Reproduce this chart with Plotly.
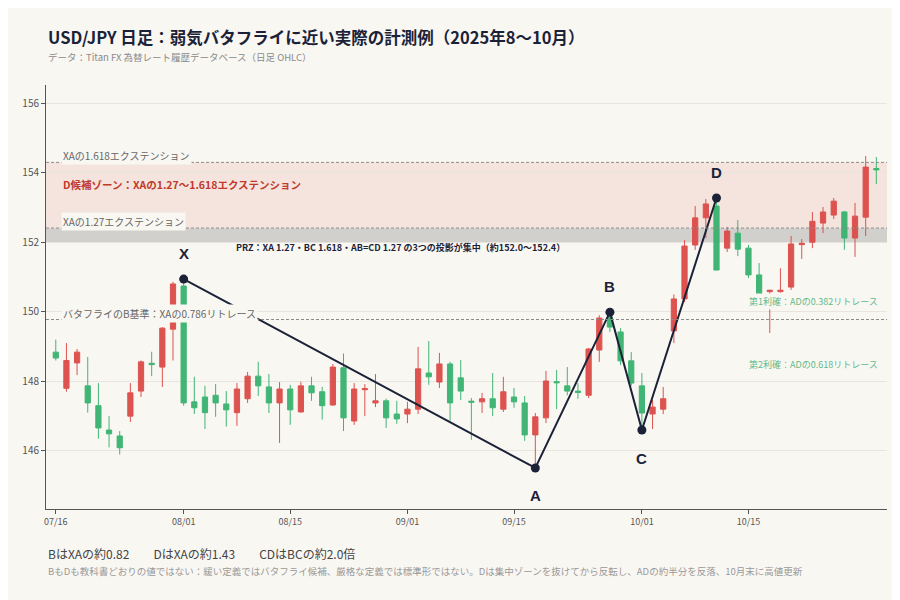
import pandas as pd
import plotly.graph_objs as go

# daily OHLC, USD/JPY, 2025-07-16 .. 2025-10-31 (weekdays)
dates = pd.bdate_range("2025-07-16", "2025-10-31")
opens = [148.84, 147.80, 148.53, 147.87, 147.30, 146.60, 146.43, 147.00, 147.72, 148.52,
         148.41, 149.50, 150.74, 147.41, 147.55, 147.60, 147.35, 147.10, 147.50, 148.15,
         147.84, 147.38, 147.78, 147.12, 147.87, 147.70, 147.32, 148.39, 146.86, 147.76,
         147.38, 147.44, 147.06, 147.06, 147.20, 148.24, 147.98, 148.50, 148.10, 147.43,
         147.41, 147.50, 147.20, 147.55, 147.38, 146.46, 146.95, 147.99, 147.87, 147.72,
         147.60, 148.90, 149.85, 149.42, 148.59, 147.87, 147.06, 147.20, 149.45, 150.37,
         151.92, 152.70, 153.04, 151.83, 152.26, 151.83, 151.06, 150.58, 150.58, 150.71,
         151.93, 152.00, 152.55, 152.78, 152.87, 152.12, 152.72, 154.12]
highs = [149.20, 149.10, 148.93, 148.70, 147.95, 147.00, 146.57, 147.95, 148.60, 148.85,
         149.56, 150.86, 150.94, 148.13, 147.87, 147.92, 147.72, 147.95, 148.27, 148.56,
         148.21, 147.98, 147.90, 147.99, 148.13, 147.84, 148.50, 148.80, 147.95, 147.92,
         148.21, 147.50, 147.44, 147.41, 148.99, 149.16, 148.82, 148.56, 148.61, 147.52,
         147.67, 148.24, 148.13, 147.81, 147.58, 147.09, 148.30, 148.33, 148.41, 147.95,
         148.96, 149.90, 149.99, 149.53, 148.84, 148.24, 147.47, 147.84, 150.50, 152.06,
         153.04, 153.24, 153.27, 152.44, 152.64, 151.92, 151.40, 150.63, 151.25, 152.18,
         152.09, 152.87, 153.01, 153.27, 152.90, 153.13, 154.48, 154.45]
lows = [148.60, 147.70, 148.18, 147.10, 146.35, 146.10, 145.90, 146.83, 147.55, 148.15,
        147.84, 148.60, 147.30, 147.06, 146.63, 146.98, 146.70, 146.72, 147.38, 147.58,
        147.09, 146.23, 146.75, 147.10, 147.44, 146.90, 147.30, 146.57, 146.75, 147.00,
        147.26, 146.66, 146.78, 146.80, 147.06, 147.90, 147.81, 146.86, 147.46, 146.32,
        147.09, 147.00, 147.12, 147.24, 146.29, 145.51, 146.80, 147.20, 147.60, 147.50,
        147.52, 148.56, 149.42, 148.47, 147.87, 146.60, 146.63, 147.06, 149.10, 150.28,
        151.78, 152.12, 151.20, 151.72, 151.60, 150.97, 150.22, 149.39, 150.55, 150.63,
        151.52, 151.83, 152.26, 152.67, 151.78, 151.58, 152.18, 153.67]
closes = [148.67, 148.60, 148.84, 147.38, 146.66, 146.49, 146.09, 147.67, 148.56, 148.48,
          149.53, 150.80, 147.38, 147.24, 147.10, 147.38, 147.18, 147.78, 148.15, 147.87,
          147.38, 147.78, 147.18, 147.87, 147.67, 147.30, 148.41, 146.95, 147.78, 147.79,
          147.44, 146.95, 146.92, 147.20, 148.36, 148.13, 148.50, 147.38, 147.72, 147.40,
          147.50, 147.24, 147.70, 147.41, 146.46, 146.98, 148.01, 147.96, 147.72, 147.68,
          148.93, 149.82, 149.56, 148.59, 147.95, 147.09, 147.26, 147.50, 150.37, 151.89,
          152.70, 153.10, 151.20, 152.32, 151.80, 151.06, 150.43, 150.62, 150.62, 151.95,
          151.97, 152.60, 152.87, 153.18, 152.12, 152.75, 154.16, 154.08]

pivot_names = ["X", "A", "B", "C", "D"]
pivot_dates = ["2025-08-01", "2025-09-17", "2025-09-26", "2025-10-01", "2025-10-10"]
pivot_prices = [150.94, 145.51, 149.99, 146.60, 153.27]

tick_dates = ["2025-07-16", "2025-08-01", "2025-08-15", "2025-09-01",
              "2025-09-15", "2025-10-01", "2025-10-15"]

BG = "#f9f7f2"
NAVY = "#1b2238"
RED = "#dc4b48"
GREEN = "#38b26f"
FONT = "Noto Sans CJK JP"

X, A = pivot_prices[0], pivot_prices[1]
xa = X - A
b_level = A + 0.786 * xa
ext127 = A + 1.27 * xa
ext1618 = A + 1.618 * xa
D = pivot_prices[4]
ad = D - A
tp1 = D - 0.382 * ad
tp2 = D - 0.618 * ad

fig = go.Figure()

fig.add_hrect(y0=ext127, y1=ext1618, fillcolor="rgba(226,90,70,0.12)", line_width=0, layer="below")
fig.add_hrect(y0=152.0, y1=152.4, fillcolor="rgba(150,150,150,0.4)", line_width=0, layer="below")
for lv in [ext1618, ext127, b_level]:
    fig.add_hline(y=lv, line=dict(color="#8a8a8a", width=1, dash="3px,2px"))

fig.add_trace(go.Candlestick(
    x=dates, open=opens, high=highs, low=lows, close=closes,
    increasing=dict(line=dict(color=RED, width=1), fillcolor=RED),
    decreasing=dict(line=dict(color=GREEN, width=1), fillcolor=GREEN),
    whiskerwidth=0, showlegend=False, opacity=0.95,
))

for lv in [tp1, tp2]:
    fig.add_trace(go.Scatter(
        x=["2025-10-15", "2025-10-31"], y=[lv, lv], mode="lines",
        line=dict(color="#7fcf9f", width=1, dash="dot"), showlegend=False, hoverinfo="skip",
    ))

fig.add_trace(go.Scatter(
    x=pivot_dates, y=pivot_prices, mode="lines+markers",
    line=dict(color=NAVY, width=2), marker=dict(color=NAVY, size=9),
    showlegend=False,
))

for name, d, p in zip(pivot_names, pivot_dates, pivot_prices):
    up = name in ("X", "B", "D")
    fig.add_annotation(x=d, y=p, text=f"<b>{name}</b>", showarrow=False,
                       yshift=26 if up else -28, font=dict(size=15, color=NAVY, family="Arial"))

lab = dict(showarrow=False, xref="paper", xanchor="left", x=0.018, bgcolor=BG)
fig.add_annotation(y=ext1618, text="XAの1.618エクステンション", yanchor="bottom", yshift=-3,
                   font=dict(size=10, color="#666"), **lab)
fig.add_annotation(y=ext127, text="XAの1.27エクステンション", yanchor="bottom", yshift=-3,
                   font=dict(size=10, color="#666"), **lab)
fig.add_annotation(y=b_level, text="バタフライのB基準：XAの0.786リトレース", yanchor="bottom", yshift=-3,
                   font=dict(size=10, color="#666"), **lab)
fig.add_annotation(y=153.65, text="<b>D候補ゾーン：XAの1.27〜1.618エクステンション</b>",
                   showarrow=False, xref="paper", xanchor="left", x=0.018,
                   font=dict(size=10.5, color="#c0392b"))
fig.add_annotation(y=151.85, text="<b>PRZ：XA 1.27・BC 1.618・AB=CD 1.27 の3つの投影が集中（約152.0〜152.4）</b>",
                   showarrow=False, xref="paper", x=0.422, font=dict(size=9, color=NAVY))
fig.add_annotation(y=tp1, text="第1利確：ADの0.382リトレース", showarrow=False, xref="paper",
                   x=0.992, xanchor="right", bgcolor=BG, font=dict(size=9, color="#5dbb8a"))
fig.add_annotation(y=tp2, text="第2利確：ADの0.618リトレース", showarrow=False, xref="paper",
                   x=0.992, xanchor="right", bgcolor=BG, font=dict(size=9, color="#5dbb8a"))

fig.add_annotation(text="<b>USD/JPY 日足：弱気バタフライに近い実際の計測例（2025年8〜10月）</b>",
                   xref="paper", yref="paper", x=0, y=1, yshift=48, xanchor="left", yanchor="middle",
                   showarrow=False, font=dict(size=16.5, color=NAVY))
fig.add_annotation(text="データ：Titan FX 為替レート履歴データベース（日足 OHLC）",
                   xref="paper", yref="paper", x=0, y=1, yshift=28, xanchor="left", yanchor="middle",
                   showarrow=False, font=dict(size=9.5, color="#8a8a8a"))
fig.add_annotation(text="BはXAの約0.82　　DはXAの約1.43　　CDはBCの約2.0倍",
                   xref="paper", yref="paper", x=0, y=0, yshift=-44, xanchor="left", yanchor="middle",
                   showarrow=False, font=dict(size=12, color="#444"))
fig.add_annotation(text="BもDも教科書どおりの値ではない：緩い定義ではバタフライ候補、厳格な定義では標準形ではない。Dは集中ゾーンを抜けてから反転し、ADの約半分を反落、10月末に高値更新",
                   xref="paper", yref="paper", x=0, y=0, yshift=-62, xanchor="left", yanchor="middle",
                   showarrow=False, font=dict(size=9.5, color="#999"))

fig.update_layout(
    width=900, height=600,
    paper_bgcolor=BG, plot_bgcolor=BG,
    font=dict(family=FONT, color="#444"),
    margin=dict(l=38, r=21, t=77, b=99),
    xaxis=dict(
        range=["2025-07-15 02:00", "2025-11-03 00:00"],
        rangebreaks=[dict(bounds=["sat", "mon"])],
        rangeslider=dict(visible=False),
        tickvals=tick_dates, tickformat="%m/%d",
        tickfont=dict(size=9, color="#555"),
        showgrid=False, showline=True, linecolor="#555", linewidth=1,
        ticks="outside", ticklen=4, tickcolor="#555",
    ),
    yaxis=dict(
        range=[144.33, 156.52], dtick=2, tick0=146,
        tickfont=dict(size=10, color="#555"),
        showgrid=True, gridcolor="#e8e5df", zeroline=False,
        showline=True, linecolor="#555", linewidth=1,
        ticks="outside", ticklen=4, tickcolor="#555",
    ),
)

fig.write_html("out.html")
